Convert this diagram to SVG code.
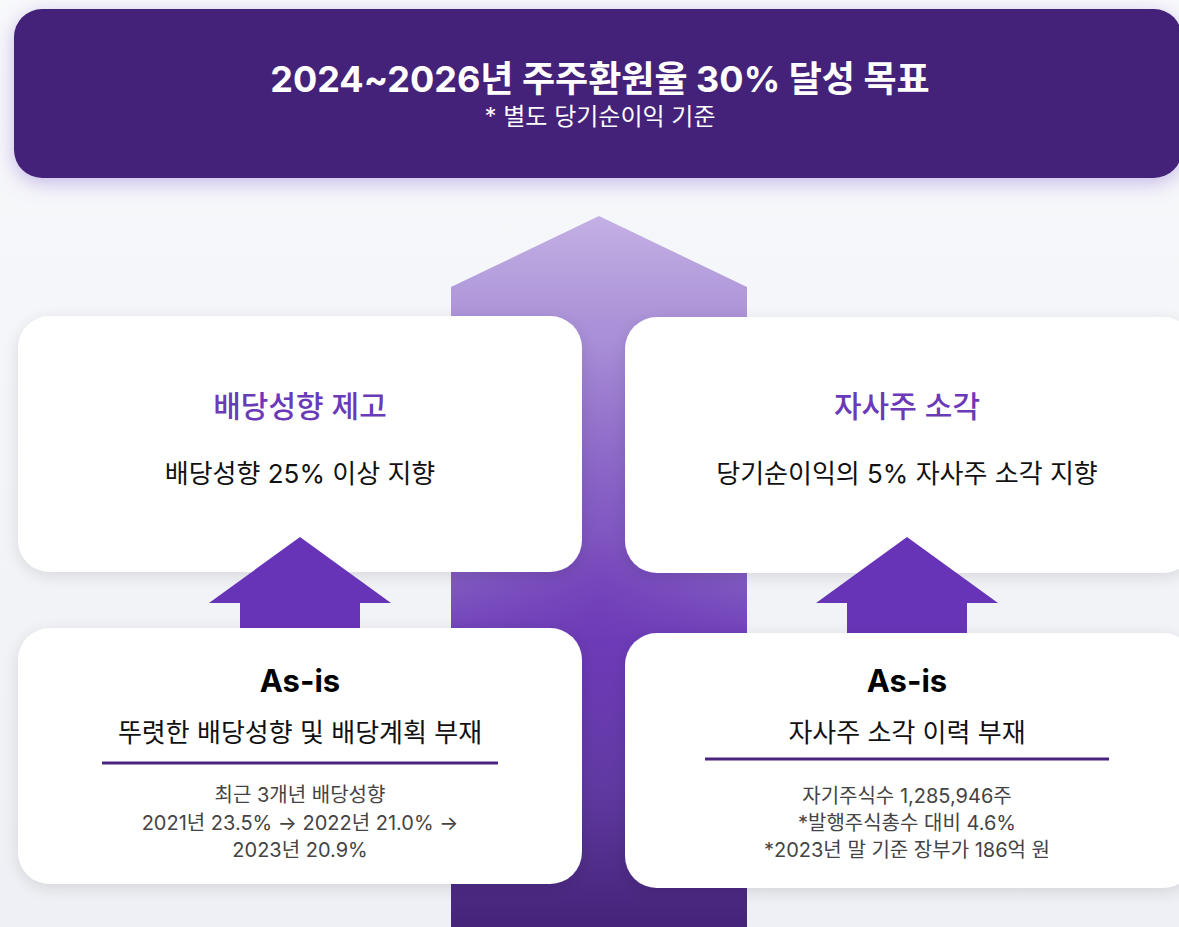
<svg xmlns="http://www.w3.org/2000/svg" width="1179" height="927" viewBox="0 0 1179 927">
<defs>
<linearGradient id="bg" x1="0" y1="0" x2="0" y2="1">
<stop offset="0" stop-color="#f8f9fb"/>
<stop offset="1" stop-color="#eef0f5"/>
</linearGradient>
<linearGradient id="shaft" x1="0" y1="0" x2="0" y2="1">
<stop offset="0" stop-color="#c3b0e3"/>
<stop offset="0.15" stop-color="#ab92d8"/>
<stop offset="0.45" stop-color="#8f6cc9"/>
<stop offset="0.6" stop-color="#6e3fb8"/>
<stop offset="0.8" stop-color="#5f3a9e"/>
<stop offset="1" stop-color="#45237a"/>
</linearGradient>
<radialGradient id="glow" cx="0.5" cy="0.5" r="0.5">
<stop offset="0" stop-color="#6a35b5" stop-opacity="0.55"/>
<stop offset="1" stop-color="#6a35b5" stop-opacity="0"/>
</radialGradient>
<filter id="sh" x="-10%" y="-20%" width="120%" height="140%">
<feGaussianBlur in="SourceAlpha" stdDeviation="8"/>
<feOffset dy="4"/>
<feComponentTransfer><feFuncA type="linear" slope="0.12"/></feComponentTransfer>
<feMerge><feMergeNode/><feMergeNode in="SourceGraphic"/></feMerge>
</filter>
<filter id="shb" x="-10%" y="-40%" width="120%" height="180%">
<feFlood flood-color="#8a6ad0" flood-opacity="0.45"/>
<feComposite operator="in" in2="SourceAlpha"/>
<feGaussianBlur stdDeviation="10"/>
<feOffset dy="5"/>
<feMerge><feMergeNode/><feMergeNode in="SourceGraphic"/></feMerge>
</filter>
<style>
text{font-family:"Inter","Noto Sans CJK KR",sans-serif;text-anchor:middle}
.title{font-size:36px;font-weight:700;fill:#ffffff}
.sub{font-size:24px;fill:#ffffff}
.head{font-size:30px;fill:#6a3ab8;font-weight:500}
.body{font-size:26px;fill:#111111}
.asis{font-size:31px;font-weight:700;fill:#000000}
.small{font-size:20px;fill:#444444}
.card{fill:#ffffff}
.arrow{fill:#6734b8}
.rule{stroke:#4a2580;stroke-width:3}
</style>
</defs>
<rect width="1179" height="927" fill="url(#bg)"/>

<g id="banner">
<rect x="14" y="9" width="1168" height="169" rx="28" fill="#45237a" filter="url(#shb)"/>
<text class="title" x="600" y="92">2024~2026년 주주환원율 30% 달성 목표</text>
<text class="sub" x="600" y="125">* 별도 당기순이익 기준</text>
</g>

<g id="main-arrow">
<path d="M599 216 L747 287 L747 927 L451 927 L451 287 Z" fill="url(#shaft)"/>
<rect x="451" y="340" width="296" height="520" fill="url(#glow)"/>
</g>

<g id="goal-dividend">
<rect class="card" x="18" y="316" width="564" height="256" rx="32" filter="url(#sh)"/>
<text class="head" x="300" y="417">배당성향 제고</text>
<text class="body" x="300" y="483">배당성향 25% 이상 지향</text>
</g>

<g id="goal-buyback">
<rect class="card" x="625" y="317" width="570" height="256" rx="32" filter="url(#sh)"/>
<text class="head" x="907" y="417">자사주 소각</text>
<text class="body" x="907" y="483">당기순이익의 5% 자사주 소각 지향</text>
</g>

<g id="connectors">
<path id="arrow-left" class="arrow" d="M300 537 L391 603 L360 603 L360 630 L240 630 L240 603 L209 603 Z"/>
<path id="arrow-right" class="arrow" d="M907 537 L998 603 L967 603 L967 635 L847 635 L847 603 L816 603 Z"/>
</g>

<g id="asis-dividend">
<rect class="card" x="18" y="628" width="564" height="256" rx="32" filter="url(#sh)"/>
<text class="asis" x="300" y="692">As-is</text>
<text class="body" x="300" y="742">뚜렷한 배당성향 및 배당계획 부재</text>
<line class="rule" x1="102" y1="763" x2="498" y2="763"/>
<text class="small" x="300" y="802">최근 3개년 배당성향</text>
<text class="small" x="300" y="830">2021년 23.5% → 2022년 21.0% →</text>
<text class="small" x="300" y="857">2023년 20.9%</text>
</g>

<g id="asis-buyback">
<rect class="card" x="625" y="633" width="570" height="255" rx="32" filter="url(#sh)"/>
<text class="asis" x="907" y="692">As-is</text>
<text class="body" x="907" y="742">자사주 소각 이력 부재</text>
<line class="rule" x1="705" y1="759" x2="1109" y2="759"/>
<text class="small" x="907" y="803">자기주식수 1,285,946주</text>
<text class="small" x="907" y="830">*발행주식총수 대비 4.6%</text>
<text class="small" x="907" y="857">*2023년 말 기준 장부가 186억 원</text>
</g>
</svg>
